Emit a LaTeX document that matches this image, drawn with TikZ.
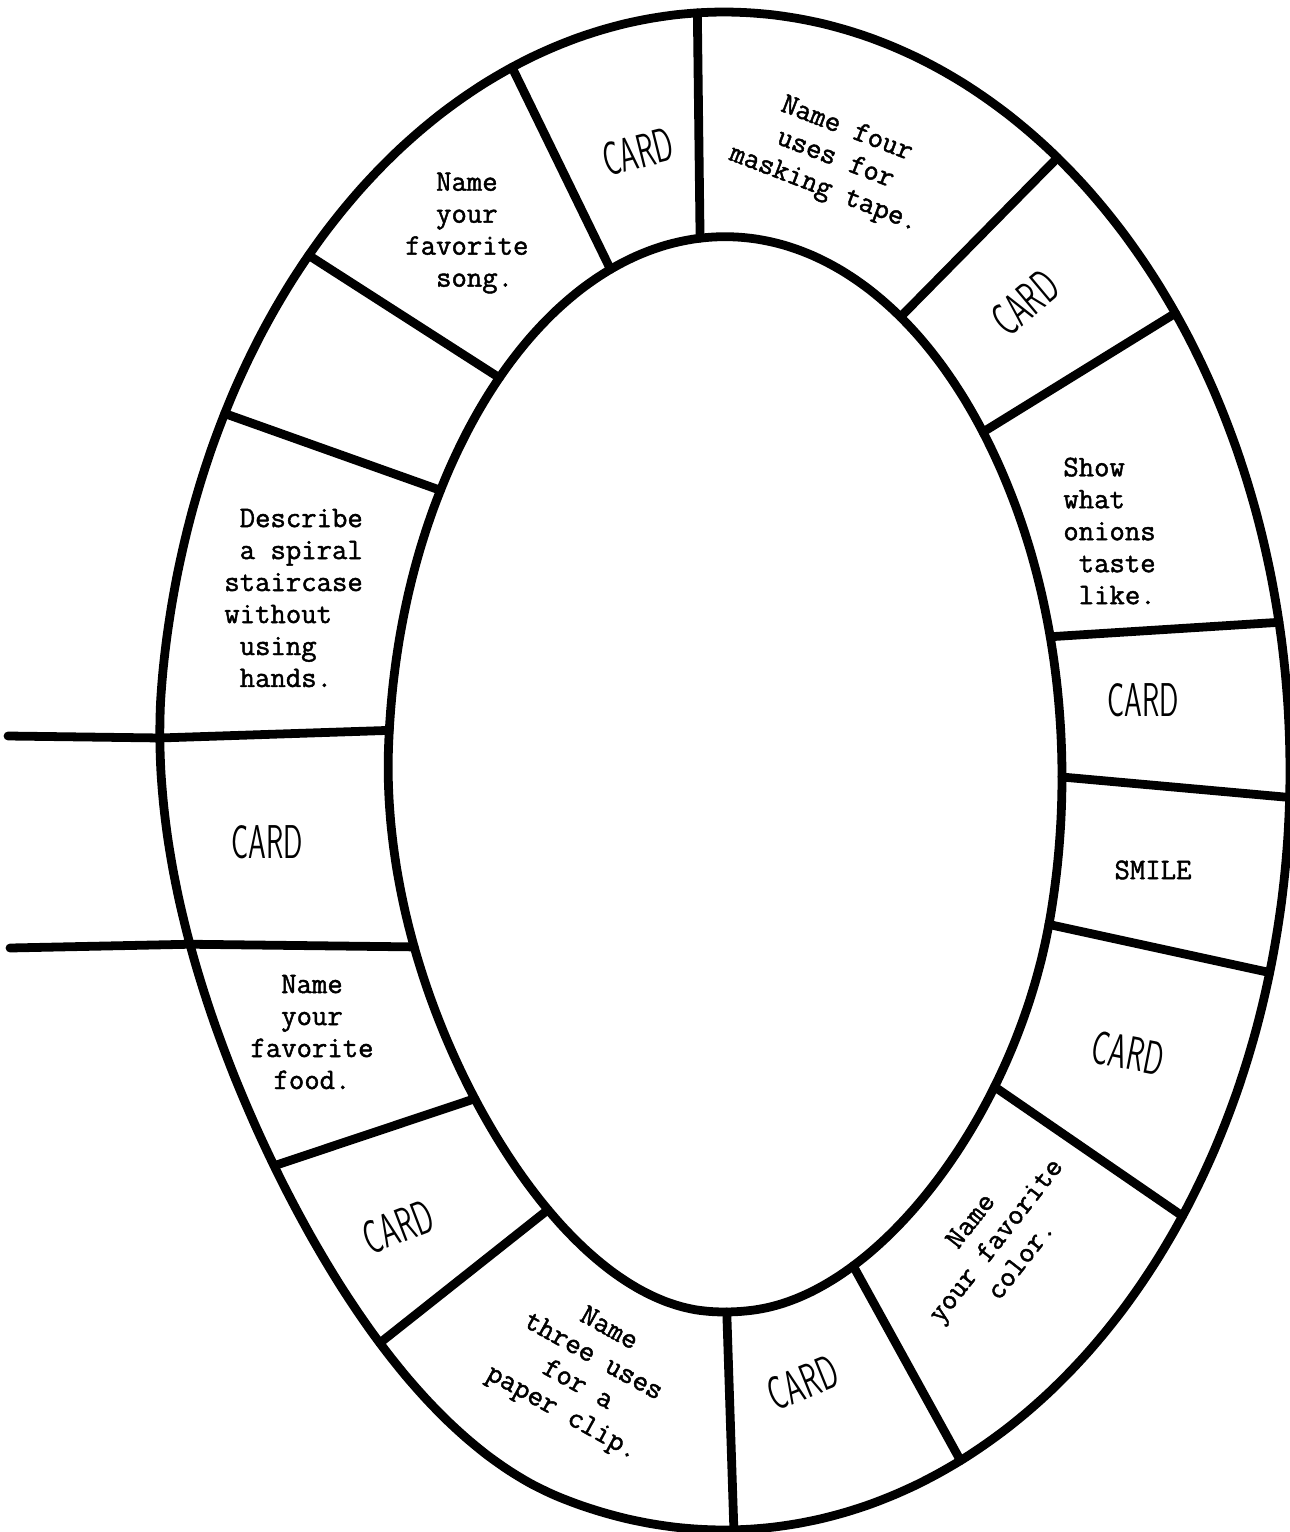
\documentclass[tikz,border=0pt]{standalone}
\usepackage{fontspec}
\setmonofont{Latin Modern Mono}[FakeBold=1.5]
\usepackage{tikz}
\usetikzlibrary{positioning}
\tikzset{
  track/.style={draw=black,line width=5pt,line join=round,line cap=round},
  task/.style={font=\ttfamily\fontsize{17}{18.2}\selectfont,inner sep=0pt},
  cardlbl/.style={font=\sffamily\fontsize{27}{30}\selectfont,inner sep=0pt},
  declare function={
    bump(\p,\c,\w)=max(0,1-((\p-\c)/\w)^2)^2;
    fo(\p)=1-0.05*bump(\p,213,40);
    fi(\p)=1+0.01*bump(\p,90,60)-0.045*bump(\p,222,45)-0.018*bump(\p,310,35);
  },
}
\newcommand{\cardtxt}{\scalebox{0.6}[1]{CARD}}
\newcommand{\pad}{\hphantom{x}}

\begin{document}
\begin{tikzpicture}[x=0.02cm,y=-0.02cm]
\useasboundingbox (0,0) rectangle (1290,1532);
% the two edges of the track
\draw[track] plot[domain=0:357.5,samples=144,smooth cycle]
  ({724+566*fo(\x)*cos(\x)},{771-759*fo(\x)*sin(\x)});
\draw[track] plot[domain=0:357.5,samples=144,smooth cycle]
  ({725+337*fi(\x)*cos(\x)},{777-535*fi(\x)*sin(\x)});

% divider ends: angle on outer edge, angle on inner edge
\foreach \n/\a/\b in {1/92.7/94.2, 2/53.9/58.8, 3/37.1/40.1, 4/11.3/15.2,
    5/358/0, 6/344.6/344, 7/324.1/324.1, 8/294.7/292.6, 9/271/270.3,
    10/231.1/237, 11/213.2/219, 12/193.6/199, 13/177.5/175,
    14/151.9/147.6, 15/137.2/131.9, 16/112/109.7}{
  \coordinate (o\n) at ({724+566*fo(\a)*cos(\a)},{771-759*fo(\a)*sin(\a)});
  \coordinate (i\n) at ({725+337*fi(\b)*cos(\b)},{777-535*fi(\b)*sin(\b)});
}
% start lane on the left
\coordinate (e12) at (10,948);
\coordinate (e13) at (8,736);

\draw[track] (i1) -- (o1);
\draw[track] (i2) -- (o2);
\draw[track] (i3) -- (o3);
\draw[track] (i4) -- (o4);
\draw[track] (i5) -- (o5);
\draw[track] (i6) -- (o6);
\draw[track] (i7) -- (o7);
\draw[track] (i8) -- (o8);
\draw[track] (i9) -- (o9);
\draw[track] (i10) -- (o10);
\draw[track] (i11) -- (o11);
\draw[track] (i12) -- (o12) -- (e12);
\draw[track] (i13) -- (o13) -- (e13);
\draw[track] (i14) -- (o14);
\draw[track] (i15) -- (o15);
\draw[track] (i16) -- (o16);

% squares, clockwise from the top
\node[cardlbl,rotate=14] (card1) at (638,152) {\cardtxt};
\node[task,align=center,rotate=-21] (masking) at (835,160) {Name four\\uses for\\masking tape.};
\node[cardlbl,rotate=40] (card2) at (1025,303) {\cardtxt};
\node[task,align=left,anchor=west] (onions) at (1063,531) {Show\\what\\onions\\\pad taste\\\pad like.};
\node[cardlbl] (card3) at (1143,700) {\cardtxt};
\node[task] (smile) at (1153,870) {SMILE};
\node[cardlbl,rotate=-11] (card4) at (1128,1053) {\cardtxt};
\node[task,align=center,rotate=52] (color) at (995,1240) {Name\\your favorite\\color.};
\node[cardlbl,rotate=22] (card5) at (803,1383) {\cardtxt};
\node[task,align=center,rotate=-29] (clip) at (585,1372) {Name\\three uses\\for a\\paper clip.};
\node[cardlbl,rotate=21] (card6) at (398,1227) {\cardtxt};
\node[task,align=center] (food) at (312,1032) {Name\\your\\favorite\\food.};
\node[cardlbl] (card7) at (267,842) {\cardtxt};
\node[task,align=left,anchor=west] (spiral) at (224,598) {\pad Describe\\\pad a spiral\\staircase\\without\\\pad using\\\pad hands.};
\node[task,align=left,anchor=west] (song) at (405,233) {\pad\pad Name\\\pad\pad your\\favorite\\\pad\pad song.};
\end{tikzpicture}
\end{document}
